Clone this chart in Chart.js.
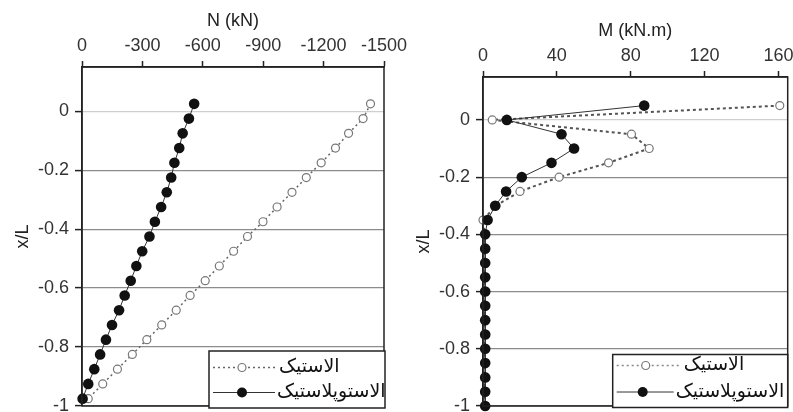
<!DOCTYPE html>
<html>
<head>
<meta charset="utf-8">
<script src="https://cdn.jsdelivr.net/npm/chart.js@4.4.1/dist/chart.umd.min.js"></script>
<style>
  html, body { margin: 0; padding: 0; background: #fff; }
  #wrap { position: relative; width: 793px; height: 412px; overflow: hidden; }
  #chart-n { position: absolute; left: 0; top: 0; }
  #chart-m { position: absolute; left: 400px; top: 0; }
</style>
</head>
<body>
<div id="wrap">
  <canvas id="chart-n" width="420" height="412"></canvas>
  <canvas id="chart-m" width="393" height="412"></canvas>
</div>
<script>
// --- Data: axial force N along the pile ---
const xL_N = [0.025, -0.025, -0.075, -0.125, -0.175, -0.225, -0.275, -0.325, -0.375, -0.425, -0.475,
              -0.525, -0.575, -0.625, -0.675, -0.725, -0.775, -0.825, -0.875, -0.925, -0.975];
const N_elastic = [-1433, -1396, -1324, -1259, -1188, -1114, -1043, -969, -899, -822, -753,
                   -682, -612, -537, -468, -396, -322, -250, -176, -103, -31];
const N_elastoplastic = [-557, -531, -500, -483, -459, -443, -421, -393, -362, -335, -299,
                         -270, -242, -212, -184, -149, -119, -90, -61, -31, -3];

// --- Data: bending moment M along the pile ---
const xL_M = [0.05, 0, -0.05, -0.1, -0.15, -0.2, -0.25, -0.3, -0.35, -0.4, -0.45,
              -0.5, -0.55, -0.6, -0.65, -0.7, -0.75, -0.8, -0.85, -0.9, -0.95, -1];
const M_elastic = [160.7, 5, 80.4, 90, 68, 41.2, 20, 7, 0, 1, 1,
                   1, 1, 1, 1, 1, 1, 1, 1, 1, 1, 1];
const M_elastoplastic = [87.3, 12.9, 42.5, 49.3, 37.1, 21, 12.5, 6.6, 2.5, 1.2, 1.2,
                         1.2, 1.2, 1.2, 1.2, 1.2, 1.2, 1.2, 1.2, 1.2, 1.2, 1.2];

// --- Ticks and labels ---
const N_ticks = [0, -300, -600, -900, -1200, -1500];
const M_ticks = [0, 40, 80, 120, 160];
const xL_ticks = [0, -0.2, -0.4, -0.6, -0.8, -1];
const seriesNames = ['الاستیک', 'الاستوپلاستیک'];

const FONT = 'Liberation Sans, Arial, sans-serif';
const INK = '#222';

function toPoints(xs, ys) {
    return xs.map((v, i) => ({ x: v, y: ys[i] }));
}

// frame around plot area (right + bottom edges)
const framePlugin = {
    id: 'frame',
    afterDatasetsDraw(chart) {
        const { ctx, chartArea: a } = chart;
        ctx.save();
        ctx.strokeStyle = INK;
        ctx.lineWidth = 1.5;
        ctx.strokeRect(a.left, a.top, a.right - a.left, a.bottom - a.top);
        ctx.restore();
    }
};

// boxed legend sitting in the lower right corner
const boxLegendPlugin = {
    id: 'boxLegend',
    afterDraw(chart, args, opts) {
        const { ctx, chartArea: a } = chart;
        const w = opts.width, h = opts.height;
        const left = a.right - w + opts.dx, top = a.bottom - h + opts.dy;
        ctx.save();
        ctx.fillStyle = '#fff';
        ctx.fillRect(left, top, w, h);
        ctx.strokeStyle = INK;
        ctx.lineWidth = 1.5;
        ctx.strokeRect(left, top, w, h);

        const rows = [
            { y: top + opts.row1, dash: opts.dash, color: opts.dashColor, lw: opts.dashWidth, open: true, mx: opts.mark1, tx: opts.text1 },
            { y: top + opts.row2, dash: [], color: '#333', lw: 1, open: false, mx: opts.mark2, tx: opts.text2 }
        ];
        rows.forEach((r, i) => {
            ctx.beginPath();
            ctx.setLineDash(r.dash);
            ctx.strokeStyle = r.color;
            ctx.lineWidth = r.lw;
            ctx.moveTo(left + 4, r.y);
            ctx.lineTo(left + r.tx - 2, r.y);
            ctx.stroke();
            ctx.setLineDash([]);
            ctx.beginPath();
            if (r.open) {
                ctx.arc(left + r.mx, r.y, 4, 0, Math.PI * 2);
                ctx.fillStyle = '#fff';
                ctx.fill();
                ctx.strokeStyle = '#777';
                ctx.lineWidth = 1.2;
                ctx.stroke();
            } else {
                ctx.arc(left + r.mx, r.y, 5, 0, Math.PI * 2);
                ctx.fillStyle = '#111';
                ctx.fill();
            }
            ctx.fillStyle = '#111';
            ctx.font = '19px "DejaVu Sans"';
            ctx.textAlign = 'left';
            ctx.textBaseline = 'middle';
            ctx.fillText(seriesNames[i], left + r.tx, r.y);
        });
        ctx.restore();
    }
};

function makeOptions(cfg) {
    return {
        responsive: false,
        animation: false,
        layout: { padding: cfg.padding },
        plugins: {
            legend: { display: false },
            tooltip: { enabled: false },
            boxLegend: cfg.legend
        },
        scales: {
            x: {
                type: 'linear',
                position: 'top',
                min: cfg.xMin,
                max: cfg.xMax,
                reverse: cfg.reverse,
                afterBuildTicks: s => { s.ticks = cfg.xTicks.map(v => ({ value: v })); },
                afterFit: s => { s.height = 61; s.paddingLeft = 0; s.paddingRight = 0; },
                ticks: {
                    callback: v => String(v),
                    font: { family: FONT, size: 18 },
                    color: '#333',
                    padding: 4,
                    maxRotation: 0,
                    autoSkip: false
                },
                grid: {
                    drawOnChartArea: false,
                    drawTicks: true,
                    tickLength: 6,
                    tickColor: INK,
                    tickWidth: 1.5
                },
                border: { display: true, color: INK, width: 1.5 },
                title: {
                    display: true,
                    text: cfg.xTitle,
                    font: { family: FONT, size: 18 },
                    color: INK,
                    padding: { top: 4, bottom: 0 }
                }
            },
            y: {
                type: 'linear',
                min: -1,
                max: 0.15,
                afterBuildTicks: s => { s.ticks = xL_ticks.map(v => ({ value: v })); },
                afterFit: s => { s.width = 74; s.paddingTop = 0; s.paddingBottom = 0; },
                ticks: {
                    callback: v => String(v),
                    font: { family: FONT, size: 18 },
                    color: '#333',
                    padding: 6
                },
                grid: {
                    color: c => (c.tick && c.tick.value === 0) ? '#cfcfcf' : '#8c8c8c',
                    lineWidth: 1.2,
                    drawTicks: true,
                    tickLength: 7,
                    tickColor: INK,
                    tickWidth: 1.5
                },
                border: { display: true, color: INK, width: 1.5 },
                title: {
                    display: true,
                    text: 'x/L',
                    font: { family: FONT, size: 18 },
                    color: INK,
                    padding: { top: 4, bottom: 0 }
                }
            }
        }
    };
}

function makeDatasets(xs, elastic, plastic, dashStyle) {
    return [
        {
            label: seriesNames[0],
            data: toPoints(elastic, xs),
            showLine: true,
            borderColor: dashStyle.color,
            borderWidth: dashStyle.width,
            borderDash: dashStyle.dash,
            pointStyle: 'circle',
            pointRadius: 4,
            pointBackgroundColor: '#fff',
            pointBorderColor: '#777',
            pointBorderWidth: 1.2,
            clip: false,
            order: 2
        },
        {
            label: seriesNames[1],
            data: toPoints(plastic, xs),
            showLine: true,
            borderColor: '#333',
            borderWidth: 1,
            pointStyle: 'circle',
            pointRadius: 5.3,
            pointBackgroundColor: '#111',
            pointBorderColor: '#111',
            pointBorderWidth: 0,
            clip: false,
            order: 1
        }
    ];
}

// --- Left: N (kN) ---
new Chart(document.getElementById('chart-n'), {
    type: 'scatter',
    data: { datasets: makeDatasets(xL_N, N_elastic, N_elastoplastic, { color: '#666', width: 1.5, dash: [2, 3] }) },
    options: makeOptions({
        padding: { left: 8, top: 6, right: 36, bottom: 6 },
        xMin: -1500, xMax: 0, reverse: true,
        xTicks: N_ticks, xTitle: 'N (kN)',
        legend: {
            width: 176, height: 57, dx: 1, dy: 2,
            row1: 16.5, row2: 41.5,
            dash: [2, 3], dashColor: '#666', dashWidth: 1.5,
            mark1: 33, mark2: 33, text1: 70, text2: 68
        }
    }),
    plugins: [framePlugin, boxLegendPlugin]
});

// --- Right: M (kN.m) ---
new Chart(document.getElementById('chart-m'), {
    type: 'scatter',
    data: { datasets: makeDatasets(xL_M, M_elastic, M_elastoplastic, { color: '#555', width: 2, dash: [3, 3] }) },
    options: makeOptions({
        padding: { left: 9, top: 16, right: 4, bottom: 6 },
        xMin: 0, xMax: 165, reverse: false,
        xTicks: M_ticks, xTitle: 'M (kN.m)',
        legend: {
            width: 175, height: 53, dx: 0, dy: 1.5,
            row1: 11, row2: 37.5,
            dash: [2, 3], dashColor: '#888', dashWidth: 1.5,
            mark1: 33, mark2: 30, text1: 71, text2: 63
        }
    }),
    plugins: [framePlugin, boxLegendPlugin]
});
</script>
</body>
</html>
